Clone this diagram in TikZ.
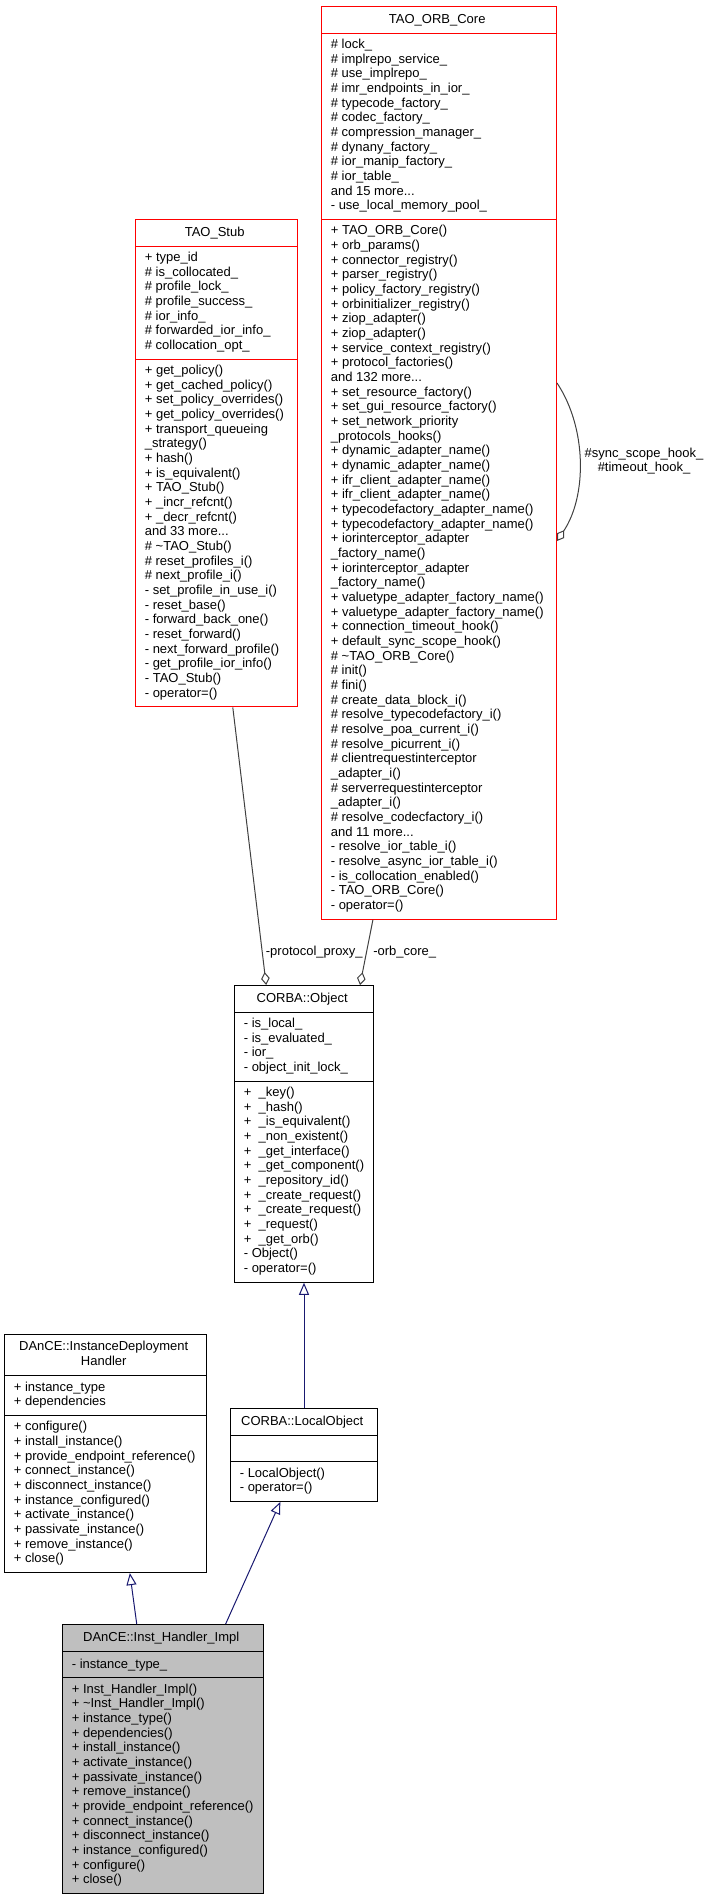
\documentclass[tikz,border=0pt]{standalone}
\usepackage{fontspec}
\setmainfont{Liberation Sans}
\usetikzlibrary{arrows.meta, shapes.multipart, calc}

\definecolor{edgegray}{HTML}{404040}
\definecolor{inhblue}{HTML}{191970}
\definecolor{implgray}{HTML}{BFBFBF}
\newcommand{\clsstrut}{\vrule height 8.2pt depth 2.8pt width 0pt\relax}

\begin{document}
\begin{tikzpicture}[
    x=0.75pt, y=-0.75pt,
    font=\fontsize{9.75pt}{11pt}\selectfont,
    cls/.style={rectangle split, rectangle split parts=3, draw, line width=0.75pt, anchor=north west,
        align=left, rectangle split part align={center, left, left}, inner xsep=7pt, inner ysep=4.1pt,
        execute at begin node=\clsstrut, execute at end node=\clsstrut},
    refcls/.style={cls, draw=red},
    agg/.style={-{Diamond[open, length=9.75pt, width=6.5pt]}, edgegray, line width=0.75pt},
    inh/.style={-{Triangle[open, length=9pt, width=7.5pt]}, inhblue, line width=0.75pt},
    elabel/.style={font=\fontsize{9.75pt}{10pt}\selectfont, align=center, inner sep=0pt},
]
\useasboundingbox (0,0) rectangle (709,1899);

% ============ Referenced classes ============
\node[refcls, minimum width=176.25pt] (orbcore) at (321,6) {TAO\_ORB\_Core
\nodepart{two}
\#~lock\_\\
\#~implrepo\_service\_\\
\#~use\_implrepo\_\\
\#~imr\_endpoints\_in\_ior\_\\
\#~typecode\_factory\_\\
\#~codec\_factory\_\\
\#~compression\_manager\_\\
\#~dynany\_factory\_\\
\#~ior\_manip\_factory\_\\
\#~ior\_table\_\\
and 15 more...\\
-~use\_local\_memory\_pool\_
\nodepart{three}
+~TAO\_ORB\_Core()\\
+~orb\_params()\\
+~connector\_registry()\\
+~parser\_registry()\\
+~policy\_factory\_registry()\\
+~orbinitializer\_registry()\\
+~ziop\_adapter()\\
+~ziop\_adapter()\\
+~service\_context\_registry()\\
+~protocol\_factories()\\
and 132 more...\\
+~set\_resource\_factory()\\
+~set\_gui\_resource\_factory()\\
+~set\_network\_priority\\
\_protocols\_hooks()\\
+~dynamic\_adapter\_name()\\
+~dynamic\_adapter\_name()\\
+~ifr\_client\_adapter\_name()\\
+~ifr\_client\_adapter\_name()\\
+~typecodefactory\_adapter\_name()\\
+~typecodefactory\_adapter\_name()\\
+~iorinterceptor\_adapter\\
\_factory\_name()\\
+~iorinterceptor\_adapter\\
\_factory\_name()\\
+~valuetype\_adapter\_factory\_name()\\
+~valuetype\_adapter\_factory\_name()\\
+~connection\_timeout\_hook()\\
+~default\_sync\_scope\_hook()\\
\#~\textasciitilde TAO\_ORB\_Core()\\
\#~init()\\
\#~fini()\\
\#~create\_data\_block\_i()\\
\#~resolve\_typecodefactory\_i()\\
\#~resolve\_poa\_current\_i()\\
\#~resolve\_picurrent\_i()\\
\#~clientrequestinterceptor\\
\_adapter\_i()\\
\#~serverrequestinterceptor\\
\_adapter\_i()\\
\#~resolve\_codecfactory\_i()\\
and 11 more...\\
-~resolve\_ior\_table\_i()\\
-~resolve\_async\_ior\_table\_i()\\
-~is\_collocation\_enabled()\\
-~TAO\_ORB\_Core()\\
-~operator=()};

\node[refcls, minimum width=121.5pt] (stub) at (135,219) {TAO\_Stub
\nodepart{two}
+~type\_id\\
\#~is\_collocated\_\\
\#~profile\_lock\_\\
\#~profile\_success\_\\
\#~ior\_info\_\\
\#~forwarded\_ior\_info\_\\
\#~collocation\_opt\_
\nodepart{three}
+~get\_policy()\\
+~get\_cached\_policy()\\
+~set\_policy\_overrides()\\
+~get\_policy\_overrides()\\
+~transport\_queueing\\
\_strategy()\\
+~hash()\\
+~is\_equivalent()\\
+~TAO\_Stub()\\
+~\_incr\_refcnt()\\
+~\_decr\_refcnt()\\
and 33 more...\\
\#~\textasciitilde TAO\_Stub()\\
\#~reset\_profiles\_i()\\
\#~next\_profile\_i()\\
-~set\_profile\_in\_use\_i()\\
-~reset\_base()\\
-~forward\_back\_one()\\
-~reset\_forward()\\
-~next\_forward\_profile()\\
-~get\_profile\_ior\_info()\\
-~TAO\_Stub()\\
-~operator=()};

% ============ Base classes ============
\node[cls, minimum width=104.25pt] (object) at (234,985) {CORBA::Object
\nodepart{two}
-~is\_local\_\\
-~is\_evaluated\_\\
-~ior\_\\
-~object\_init\_lock\_
\nodepart{three}
+~~\_key()\\
+~~\_hash()\\
+~~\_is\_equivalent()\\
+~~\_non\_existent()\\
+~~\_get\_interface()\\
+~~\_get\_component()\\
+~~\_repository\_id()\\
+~~\_create\_request()\\
+~~\_create\_request()\\
+~~\_request()\\
+~~\_get\_orb()\\
-~Object()\\
-~operator=()};

\node[cls, minimum width=151.5pt] (idh) at (4,1334) {\begin{tabular}{@{}c@{}}DAnCE::InstanceDeployment\\Handler\end{tabular}
\nodepart{two}
+~instance\_type\\
+~dependencies
\nodepart{three}
+~configure()\\
+~install\_instance()\\
+~provide\_endpoint\_reference()\\
+~connect\_instance()\\
+~disconnect\_instance()\\
+~instance\_configured()\\
+~activate\_instance()\\
+~passivate\_instance()\\
+~remove\_instance()\\
+~close()};

\node[cls, minimum width=110.25pt] (local) at (230,1408) {CORBA::LocalObject
\nodepart{two}
\nodepart{three}
-~LocalObject()\\
-~operator=()};

% ============ Described class ============
\node[cls, fill=implgray, minimum width=150.75pt] (impl) at (62,1624) {DAnCE::Inst\_Handler\_Impl
\nodepart{two}
-~instance\_type\_
\nodepart{three}
+~Inst\_Handler\_Impl()\\
+~\textasciitilde Inst\_Handler\_Impl()\\
+~instance\_type()\\
+~dependencies()\\
+~install\_instance()\\
+~activate\_instance()\\
+~passivate\_instance()\\
+~remove\_instance()\\
+~provide\_endpoint\_reference()\\
+~connect\_instance()\\
+~disconnect\_instance()\\
+~instance\_configured()\\
+~configure()\\
+~close()};

% Usage (aggregation)
\draw[agg] ($(stub.south west)!0.6!(stub.south east)$) -- ($(object.north west)!0.23!(object.north east)$);
\draw[agg] ($(orbcore.south west)!0.22!(orbcore.south east)$) -- ($(object.north west)!0.9!(object.north east)$);
\draw[agg] ($(orbcore.north east)+(0,377)$) .. controls +(30,45) and +(30,-45) .. ($(orbcore.north east)+(0,535)$);

\node[elabel, anchor=east] (lproxy) at (363,952) {-protocol\_proxy\_};
\node[elabel, anchor=west] (lcore) at (373,952) {-orb\_core\_};
\node[elabel] (lhooks) at (644,461) {\#sync\_scope\_hook\_\\\#timeout\_hook\_};

% Inheritance
\draw[inh] (local.north) -- (object.south);
\draw[inh] ($(impl.north west)!0.37!(impl.north east)$) -- ($(idh.south west)!0.62!(idh.south east)$);
\draw[inh] ($(impl.north west)!0.81!(impl.north east)$) -- ($(local.south west)!0.34!(local.south east)$);

\end{tikzpicture}
\end{document}
